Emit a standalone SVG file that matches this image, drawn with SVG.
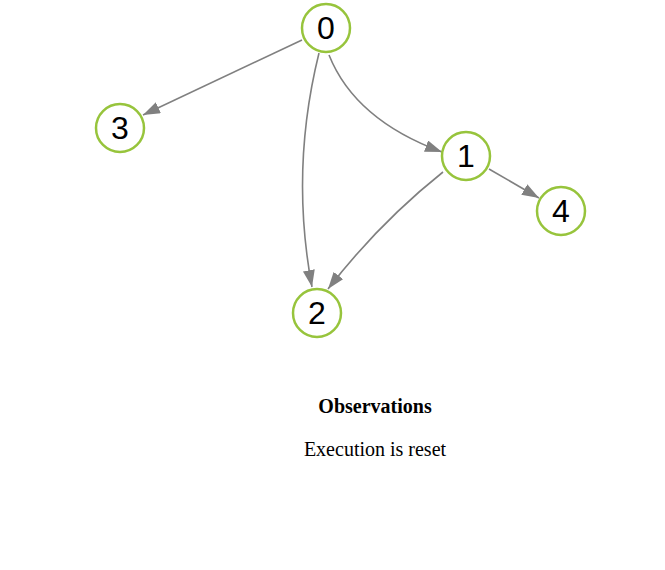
<svg xmlns="http://www.w3.org/2000/svg" width="665" height="570" viewBox="0 0 665 570">
<style>
.edge{fill:none;stroke:#808080;stroke-width:1.6}
.nc{fill:#ffffff;stroke:#97C43C;stroke-width:2.5}
.nt{font-family:"Liberation Sans",Arial,sans-serif;font-size:32px;fill:#000;text-anchor:middle}
.obs{font-family:"Liberation Serif","Times New Roman",serif;font-size:20px;fill:#000;text-anchor:middle}
</style>
<defs>
<marker id="arr" markerUnits="userSpaceOnUse" markerWidth="18" markerHeight="13" refX="17" refY="6" orient="auto">
<path d="M0,0 L17,6 L0,12 z" fill="#808080"/>
</marker>
</defs>
<rect width="665" height="570" fill="#ffffff"/>
<g id="edges">
<path class="edge" d="M302,40 L143,115" marker-end="url(#arr)"/>
<path class="edge" d="M329,55 Q355,120 442,152" marker-end="url(#arr)"/>
<path class="edge" d="M319,53 Q290,170 312,287" marker-end="url(#arr)"/>
<path class="edge" d="M443,172 Q379,223 328,289" marker-end="url(#arr)"/>
<path class="edge" d="M489,169 L539,198" marker-end="url(#arr)"/>
</g>
<g id="node0"><circle class="nc" cx="326" cy="28" r="24"/><text class="nt" x="326" y="39">0</text></g>
<g id="node1"><circle class="nc" cx="466" cy="156" r="24"/><text class="nt" x="466" y="167">1</text></g>
<g id="node2"><circle class="nc" cx="317" cy="313" r="24"/><text class="nt" x="317" y="324">2</text></g>
<g id="node3"><circle class="nc" cx="120" cy="128" r="24"/><text class="nt" x="120" y="139">3</text></g>
<g id="node4"><circle class="nc" cx="561" cy="211" r="24"/><text class="nt" x="561" y="222">4</text></g>
<g id="observations">
<text class="obs" x="375" y="413" font-weight="bold">Observations</text>
<text class="obs" x="375" y="456">Execution is reset</text>
</g>
</svg>
